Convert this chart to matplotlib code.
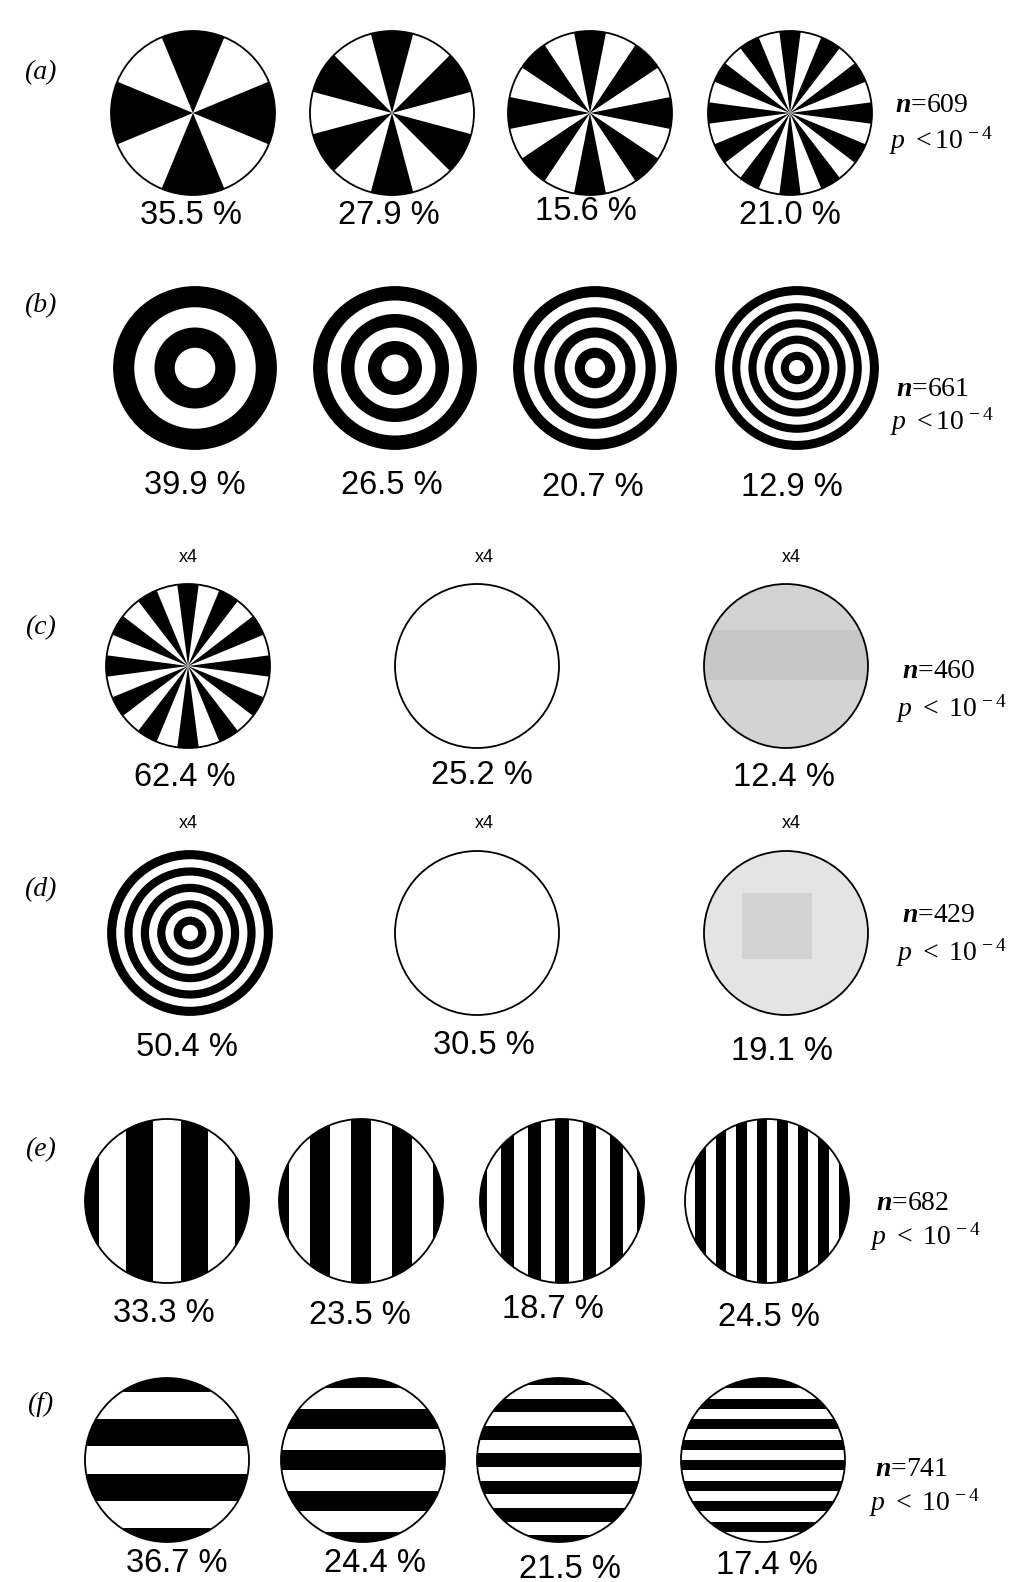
import matplotlib
matplotlib.use('Agg')
import matplotlib.pyplot as plt
from matplotlib.patches import Circle, Wedge, Rectangle

plt.rcParams['mathtext.fontset'] = 'custom'
plt.rcParams['mathtext.rm'] = 'Liberation Serif'
plt.rcParams['mathtext.it'] = 'Liberation Serif:italic'
plt.rcParams['mathtext.bf'] = 'Liberation Serif:bold:italic'

# ---------------- data ----------------
row_labels = ['(a)', '(b)', '(c)', '(d)', '(e)', '(f)']
spoke_counts = [8, 12, 16, 24]          # number of sectors (half black)
ring_counts = [4, 6, 8, 10]             # number of concentric bands
grating_cycles = [3, 4, 6, 8]           # cycles per diameter
grating_phase_e = [1.0, 0.0, 0.0, -0.5]  # black-stripe offset, stripe widths
grating_phase_f = [1.0, 0.0, 0.0, 0.5]
pct_a = [35.5, 27.9, 15.6, 21.0]
pct_b = [39.9, 26.5, 20.7, 12.9]
pct_c = [62.4, 25.2, 12.4]
pct_d = [50.4, 30.5, 19.1]
pct_e = [33.3, 23.5, 18.7, 24.5]
pct_f = [36.7, 24.4, 21.5, 17.4]
n_values = [609, 661, 460, 429, 682, 741]
p_spaced = [False, False, True, True, True, True]
magnification = 'x4'

# ---------------- figure ----------------
W, H = 1011, 1582
fig = plt.figure(figsize=(W / 100, H / 100), dpi=100)
ax = fig.add_axes([0, 0, 1, 1])
ax.set_xlim(0, W)
ax.set_ylim(H, 0)
ax.axis('off')

LW = 1.3
PCT_FS = 23.5
SANS = 'Liberation Sans'
SERIF = 'Liberation Serif'


def outline(cx, cy, r):
    ax.add_patch(Circle((cx, cy), r, fill=False, ec='black', lw=LW, zorder=5))


def spokes(cx, cy, r, n):
    ax.add_patch(Circle((cx, cy), r, fc='white', ec='none'))
    step = 360.0 / n
    for k in range(n // 2):
        c = 90 + 2 * step * k
        ax.add_patch(Wedge((cx, cy), r, c - step / 2, c + step / 2,
                           fc='black', ec='none', lw=0))
    outline(cx, cy, r)


def rings(cx, cy, r, n):
    for i in range(n):
        ax.add_patch(Circle((cx, cy), r * (n - i) / n,
                            fc='black' if i % 2 == 0 else 'white', ec='none'))
    outline(cx, cy, r)


def grating(cx, cy, r, cycles, phase, vertical):
    ax.add_patch(Circle((cx, cy), r, fc='white', ec='none'))
    clip = Circle((cx, cy), r, transform=ax.transData)
    w = r / cycles
    for k in range(-cycles - 1, cycles + 2):
        c = phase * w + 2 * w * k
        if vertical:
            rect = Rectangle((cx + c - w / 2, cy - r), w, 2 * r, fc='black', ec='none')
        else:
            rect = Rectangle((cx - r, cy + c - w / 2), 2 * r, w, fc='black', ec='none')
        ax.add_patch(rect)
        rect.set_clip_path(clip)
    outline(cx, cy, r)


def blank(cx, cy, r):
    ax.add_patch(Circle((cx, cy), r, fc='white', ec='none'))
    outline(cx, cy, r)


def gray_disk(cx, cy, r, base, extra):
    ax.add_patch(Circle((cx, cy), r, fc=base, ec='none'))
    clip = Circle((cx, cy), r, transform=ax.transData)
    for (x0, y0, w, h, col) in extra:
        rect = Rectangle((x0, y0), w, h, fc=col, ec='none')
        ax.add_patch(rect)
        rect.set_clip_path(clip)
    outline(cx, cy, r)


def pct(x, y, v):
    ax.text(x, y, f'{v:.1f} %', fontsize=PCT_FS, family=SANS,
            ha='center', va='center')


def stats(x, y_n, y_p, n, spaced):
    ax.text(x + 6, y_n, r'$\mathbf{n}$=' + str(n), fontsize=20, family=SERIF,
            ha='left', va='center')
    sep = r'\ <\ ' if spaced else r'\ <'
    ax.text(x, y_p, r'$\mathit{p}' + sep + r'10^{\,-4}$', fontsize=20,
            ha='left', va='center')


def row_label(y, s):
    ax.text(40, y, s, fontsize=20, family=SERIF, style='italic',
            ha='center', va='center')


R = 82

# Row (a) : radial sectors
a_cx = [193, 392, 590, 790]
for i, n in enumerate(spoke_counts):
    spokes(a_cx[i], 113, R, n)
for x, y, v in zip([191, 389, 586, 790], [216, 216, 212, 216], pct_a):
    pct(x, y, v)
row_label(73, row_labels[0])
stats(889, 106, 141, n_values[0], p_spaced[0])

# Row (b) : concentric rings
b_cx = [195, 395, 595, 797]
for i, n in enumerate(ring_counts):
    rings(b_cx[i], 368, 81, n)
for x, y, v in zip([195, 392, 593, 792], [485, 485, 487, 487], pct_b):
    pct(x, y, v)
row_label(306, row_labels[1])
stats(890, 390, 422, n_values[1], p_spaced[1])

# Row (c)
c_cx = [188, 477, 786]
spokes(c_cx[0], 666, R, spoke_counts[3])
blank(c_cx[1], 666, R)
gray_disk(c_cx[2], 666, R, '#d3d3d3',
          [(700, 630, 175, 50, '#c6c6c6')])
for x in [188, 484, 791]:
    ax.text(x, 557, magnification, fontsize=13, family=SANS, ha='center', va='center')
for x, y, v in zip([185, 482, 784], [778, 776, 778], pct_c):
    pct(x, y, v)
row_label(628, row_labels[2])
stats(896, 671, 709, n_values[2], p_spaced[2])

# Row (d)
d_cx = [190, 477, 786]
rings(d_cx[0], 933, R, ring_counts[3])
blank(d_cx[1], 933, R)
gray_disk(d_cx[2], 933, R, '#e4e4e4',
          [(742, 893, 70, 66, '#d2d2d2')])
for x in [188, 484, 791]:
    ax.text(x, 824, magnification, fontsize=13, family=SANS, ha='center', va='center')
for x, y, v in zip([187, 484, 782], [1047, 1045, 1052], pct_d):
    pct(x, y, v)
row_label(890, row_labels[3])
stats(896, 916, 953, n_values[3], p_spaced[3])

# Row (e) : vertical gratings
e_cx = [167, 361, 562, 767]
for i, c in enumerate(grating_cycles):
    grating(e_cx[i], 1201, R, c, grating_phase_e[i], True)
for x, y, v in zip([164, 360, 553, 769], [1313, 1315, 1310, 1318], pct_e):
    pct(x, y, v)
row_label(1150, row_labels[4])
stats(870, 1203, 1237, n_values[4], p_spaced[4])

# Row (f) : horizontal gratings
f_cx = [167, 363, 559, 763]
for i, c in enumerate(grating_cycles):
    grating(f_cx[i], 1460, R, c, grating_phase_f[i], False)
for x, y, v in zip([177, 375, 570, 767], [1564, 1564, 1569, 1566], pct_f):
    pct(x, y, v)
row_label(1404, row_labels[5])
stats(869, 1470, 1503, n_values[5], p_spaced[5])

fig.savefig('out.png', dpi=100, facecolor='white')
